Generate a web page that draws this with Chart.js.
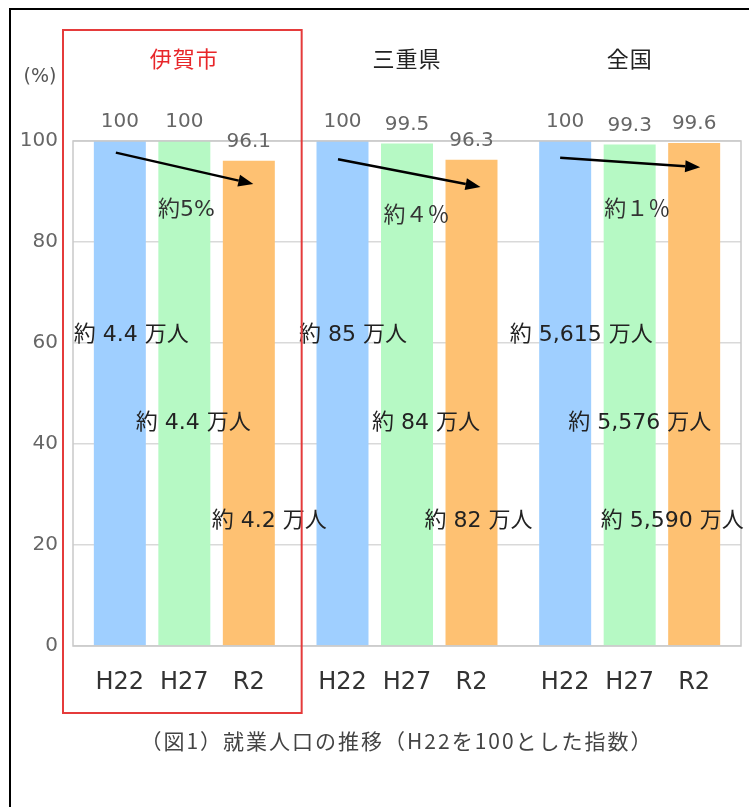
<!DOCTYPE html>
<html>
<head>
<meta charset="utf-8">
<script src="https://cdn.jsdelivr.net/npm/chart.js@4"></script>
<style>
html, body { margin: 0; padding: 0; background: #fff; }
#wrap { width: 749px; height: 807px; }
</style>
</head>
<body>
<div id="wrap"><canvas id="ctx_chart"></canvas></div>
<script>
// data
const regions = ['伊賀市', '三重県', '全国'];
const years = ['H22', 'H27', 'R2'];
const valuesH22 = [100, 100, 100];
const valuesH27 = [100, 99.5, 99.3];
const valuesR2 = [96.1, 96.3, 99.6];
const yTicks = [0, 20, 40, 60, 80, 100];
const dropLabels = ['約5%', '約４％', '約１％'];
const popIga = ['約 4.4 万人', '約 4.4 万人', '約 4.2 万人'];
const popMie = ['約 85 万人', '約 84 万人', '約 82 万人'];
const popJapan = ['約 5,615 万人', '約 5,576 万人', '約 5,590 万人'];
const caption = '（図1）就業人口の推移（H22を100とした指数）';

// where the text boxes / arrows sit (px offset from bar centre, y in axis units)
const popDx = [[11.5, 9, 20.5], [10.5, 19, 7], [16, 10, -22]];
const popY = [61.6, 44.2, 24.6];
const arrowPos = [
    { dx0: -4, y0: 97.7, dx1: 4.5, y1: 91.5 },
    { dx0: -4.5, y0: 96.4, dx1: 9, y1: 90.9 },
    { dx0: -5, y0: 96.7, dx1: 6, y1: 94.8 }
];
const dropPos = [{ dx: 2, y: 86.2 }, { dx: 9.5, y: 85 }, { dx: 7.5, y: 86.2 }];

const NUM_FONT = '"DejaVu Sans", "Noto Sans CJK JP", sans-serif';
const JP_FONT = '"Noto Sans CJK JP", sans-serif';

const overlay = {
    id: 'overlay',
    afterDatasetsDraw(chart) {
        const c = chart.ctx;
        const area = chart.chartArea;
        const xs = chart.scales.x;
        const ys = chart.scales.y;
        const metas = [0, 1, 2].map(i => chart.getDatasetMeta(i));
        const pops = [popIga, popMie, popJapan];
        const catW = (area.right - area.left) / regions.length;

        c.save();
        // plot frame
        c.strokeStyle = '#c9c9c9';
        c.lineWidth = 1.5;
        c.strokeRect(area.left, area.top, area.right - area.left, area.bottom - area.top);

        c.textAlign = 'center';
        c.textBaseline = 'middle';

        // values over bars
        c.font = '20px ' + NUM_FONT;
        c.fillStyle = '#666';
        metas.forEach((m, d) => m.data.forEach((bar, r) => {
            c.fillText(String(chart.data.datasets[d].data[r]), bar.x, bar.y - 19);
        }));

        // year labels under bars
        c.font = '24px ' + NUM_FONT;
        c.fillStyle = '#333';
        metas.forEach((m, d) => m.data.forEach(bar => {
            c.fillText(years[d], bar.x, 683);
        }));

        // region titles
        c.font = '22px ' + JP_FONT;
        c.letterSpacing = '1px';
        regions.forEach((name, r) => {
            c.fillStyle = r === 0 ? '#e8262a' : '#222';
            c.fillText(name, xs.getPixelForValue(r), 59);
        });
        c.letterSpacing = '0px';

        // (%)
        c.font = '19px ' + NUM_FONT;
        c.fillStyle = '#555';
        c.fillText('(%)', 40, 77);

        // arrows
        c.strokeStyle = '#000';
        c.fillStyle = '#000';
        c.lineWidth = 2.5;
        arrowPos.forEach((a, r) => {
            const x0 = metas[0].data[r].x + a.dx0, y0 = ys.getPixelForValue(a.y0);
            const x1 = metas[2].data[r].x + a.dx1, y1 = ys.getPixelForValue(a.y1);
            const ang = Math.atan2(y1 - y0, x1 - x0);
            const len = 15, half = 6;
            const bx = x1 - len * Math.cos(ang), by = y1 - len * Math.sin(ang);
            c.beginPath();
            c.moveTo(x0, y0);
            c.lineTo(bx, by);
            c.stroke();
            c.beginPath();
            c.moveTo(x1, y1);
            c.lineTo(bx + half * Math.sin(ang), by - half * Math.cos(ang));
            c.lineTo(bx - half * Math.sin(ang), by + half * Math.cos(ang));
            c.closePath();
            c.fill();
        });

        // drop labels
        c.font = '22px ' + NUM_FONT;
        c.fillStyle = '#333';
        dropPos.forEach((p, r) => {
            c.fillText(dropLabels[r], metas[1].data[r].x + p.dx, ys.getPixelForValue(p.y));
        });

        // population text
        c.font = '22px ' + NUM_FONT;
        c.fillStyle = '#222';
        pops.forEach((list, r) => list.forEach((txt, d) => {
            c.fillText(txt, metas[d].data[r].x + popDx[r][d], ys.getPixelForValue(popY[d]));
        }));

        // red box round 伊賀市
        const left0 = xs.getPixelForValue(0) - catW / 2;
        c.strokeStyle = '#e53b3b';
        c.lineWidth = 2;
        c.strokeRect(left0 - 10, 30, catW + 16, 683);

        // caption
        c.font = '21px ' + JP_FONT;
        c.letterSpacing = '2px';
        c.fillStyle = '#444';
        c.fillText(caption, 397, 741);
        c.letterSpacing = '0px';

        // outer frame
        c.strokeStyle = '#000';
        c.lineWidth = 2;
        c.beginPath();
        c.moveTo(10, 807);
        c.lineTo(10, 9);
        c.lineTo(749, 9);
        c.stroke();
        c.restore();
    }
};

new Chart(document.getElementById('ctx_chart'), {
    type: 'bar',
    data: {
        labels: regions,
        datasets: [{
            label: years[0],
            data: valuesH22,
            backgroundColor: '#9fcfff'
        }, {
            label: years[1],
            data: valuesH27,
            backgroundColor: '#b6f9c4'
        }, {
            label: years[2],
            data: valuesR2,
            backgroundColor: '#fec172'
        }]
    },
    options: {
        responsive: true,
        maintainAspectRatio: false,
        animation: false,
        datasets: {
            bar: {
                categoryPercentage: 0.869,
                barPercentage: 0.806
            }
        },
        layout: {
            padding: { top: 141, right: 8, bottom: 161, left: 0 }
        },
        scales: {
            x: {
                ticks: { display: false },
                grid: { display: false },
                border: { display: false },
                afterFit(axis) { axis.height = 0; }
            },
            y: {
                min: 0,
                max: 100,
                afterBuildTicks(axis) {
                    axis.ticks = yTicks.map(v => ({ value: v }));
                },
                ticks: {
                    color: '#666',
                    padding: 15,
                    font: { family: NUM_FONT, size: 20 }
                },
                grid: {
                    color: '#d9d9d9',
                    lineWidth: 1.5,
                    drawTicks: false
                },
                border: { display: false },
                afterFit(axis) { axis.width = 73; }
            }
        },
        plugins: {
            legend: { display: false },
            tooltip: { enabled: false }
        }
    },
    plugins: [overlay]
});
</script>
</body>
</html>
